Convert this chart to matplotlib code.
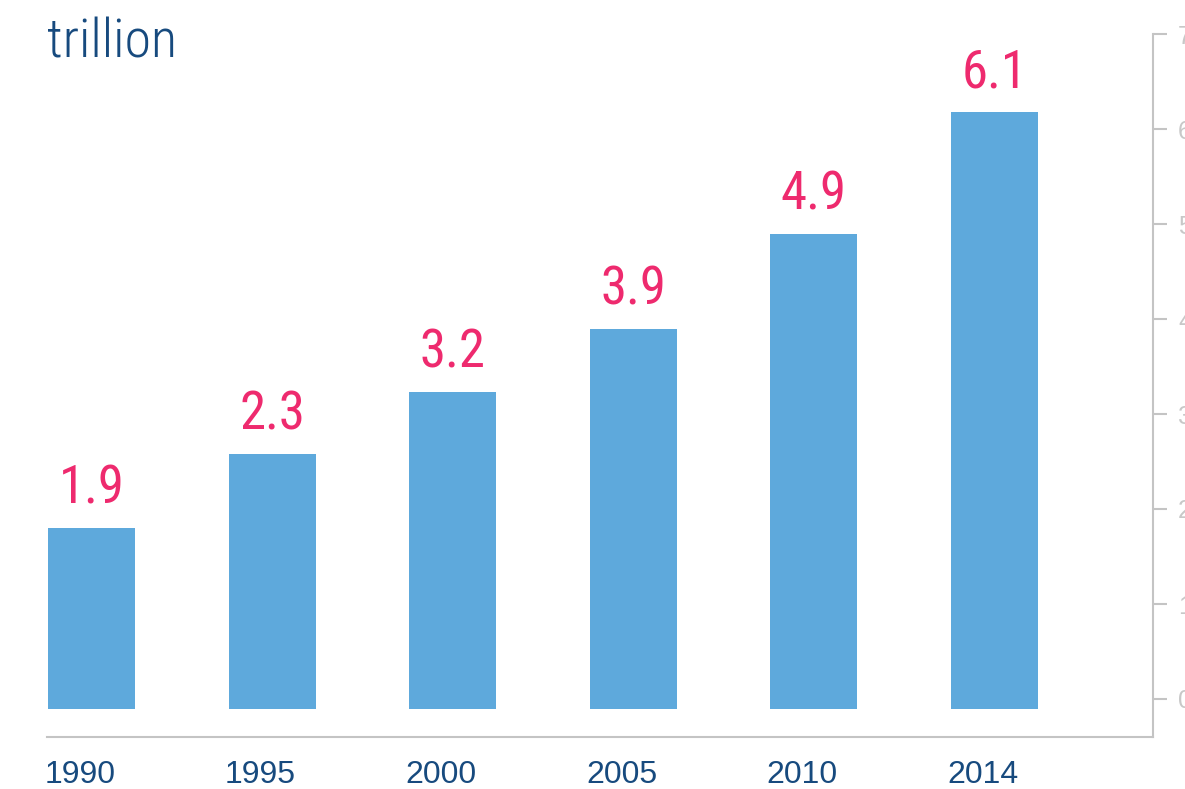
import matplotlib
matplotlib.use("Agg")
import matplotlib.pyplot as plt
import numpy as np

# data
years = ["1990", "1995", "2000", "2005", "2010", "2014"]
bar_tops = [1.80, 2.58, 3.23, 3.89, 4.89, 6.18]   # bar heights on the right axis
value_labels = ["1.9", "2.3", "3.2", "3.9", "4.9", "6.1"]
bar_base = -0.105                                  # bars start a bit under zero
y_ticks = [0, 1, 2, 3, 4, 5, 6, 7]

BAR_BLUE = "#5ea9dc"
PINK = "#ee2a6e"
NAVY = "#174a7e"
GRAY = "#c4c4c4"

narrow = ["Roboto Condensed", "Liberation Sans Narrow", "DejaVu Sans"]
plain = ["Liberation Sans", "DejaVu Sans"]

fig = plt.figure(figsize=(11.85, 7.89), dpi=100)
ax = fig.add_axes([47 / 1185, 52 / 789, (1153 - 47) / 1185, 703 / 789])

x = np.arange(len(years))
w = 0.482
heights = [t - bar_base for t in bar_tops]
bars = ax.bar(x, heights, width=w, bottom=bar_base, color=BAR_BLUE)

for rect, lab in zip(bars, value_labels):
    ax.annotate(lab, (rect.get_x() + rect.get_width() / 2, rect.get_y() + rect.get_height()),
                xytext=(0, 10), textcoords="offset points", ha="center", va="bottom",
                color=PINK, fontsize=38, family=narrow)

for xi, yr in zip(x, years):
    ax.text(xi - w / 2 - 0.02, -0.066, yr, transform=ax.get_xaxis_transform(),
            ha="left", va="baseline", color=NAVY, fontsize=23,
            family=plain, clip_on=False)

ax.set_xlim(-0.246, 5.878)
ax.set_ylim(-0.4, 7)
ax.set_xticks([])

ax.yaxis.tick_right()
ax.set_yticks(y_ticks)
ax.tick_params(axis="y", length=10, width=1.5, color=GRAY, labelcolor="#c8c8c8",
               labelsize=18, pad=8)
for lbl in ax.get_yticklabels():
    lbl.set_family(plain)

for side in ["top", "left"]:
    ax.spines[side].set_visible(False)
for side in ["right", "bottom"]:
    ax.spines[side].set_color(GRAY)
    ax.spines[side].set_linewidth(1.5)

fig.text(47 / 1185, 1 - 57 / 789, "trillion", color=NAVY, fontsize=39,
         family=narrow, fontweight="light", ha="left", va="baseline")

fig.savefig("out.png", dpi=100)
